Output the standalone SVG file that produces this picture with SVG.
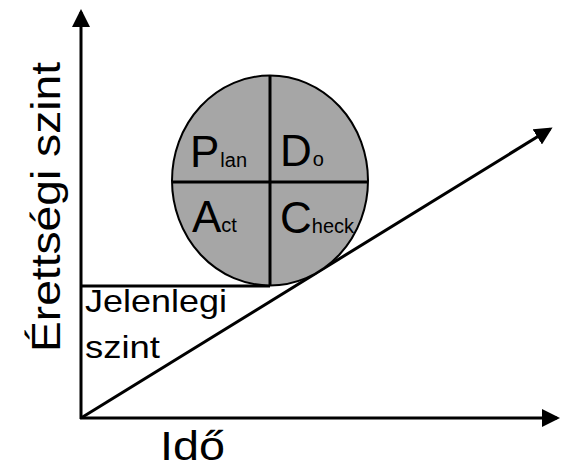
<svg xmlns="http://www.w3.org/2000/svg" width="563" height="469" viewBox="0 0 563 469">
<style>
.ln{stroke:#000;stroke-width:3;fill:none}
.t{font-family:"Liberation Sans",Arial,sans-serif;fill:#000}
.big{font-size:44px}
.sub{font-size:20px}
</style>
<defs>
<marker id="ah" markerWidth="6" markerHeight="6" refX="5" refY="3" orient="auto" markerUnits="strokeWidth">
<path d="M0,0 L6,3 L0,6 Z" fill="#000"/>
</marker>
</defs>
<rect width="563" height="469" fill="#fff"/>
<g id="connectors">
<line class="ln" x1="81" y1="419" x2="81" y2="12" marker-end="url(#ah)"/>
<line class="ln" x1="80" y1="418" x2="557" y2="418" marker-end="url(#ah)"/>
<line class="ln" x1="81" y1="418" x2="550" y2="129" marker-end="url(#ah)"/>
<line class="ln" x1="80" y1="286" x2="270" y2="286"/>
</g>
<g id="pdca">
<ellipse cx="270" cy="180.5" rx="98" ry="105" fill="#a6a6a6" stroke="#000" stroke-width="2"/>
<line x1="270" y1="76" x2="270" y2="285" stroke="#000" stroke-width="3"/>
<line x1="172" y1="182" x2="368" y2="182" stroke="#000" stroke-width="3"/>
<text class="t" x="190" y="167"><tspan class="big">P</tspan><tspan class="sub" dx="1">lan</tspan></text>
<text class="t" x="280" y="166"><tspan class="big">D</tspan><tspan class="sub" dx="1">o</tspan></text>
<text class="t" x="192" y="232"><tspan class="big">A</tspan><tspan class="sub">ct</tspan></text>
<text class="t" x="280" y="233"><tspan class="big">C</tspan><tspan class="sub">heck</tspan></text>
</g>
<g id="jelenlegi">
<text class="t" x="85" y="312" font-size="32" textLength="142" lengthAdjust="spacingAndGlyphs">Jelenlegi</text>
<text class="t" x="85" y="358" font-size="32" textLength="75" lengthAdjust="spacingAndGlyphs">szint</text>
</g>
<g id="yaxis-label">
<text class="t" transform="translate(60,352) rotate(-90)" font-size="41" textLength="290" lengthAdjust="spacingAndGlyphs">Érettségi szint</text>
</g>
<g id="xaxis-label">
<text class="t" x="160" y="460" font-size="41" textLength="65" lengthAdjust="spacingAndGlyphs">Idő</text>
</g>
</svg>
